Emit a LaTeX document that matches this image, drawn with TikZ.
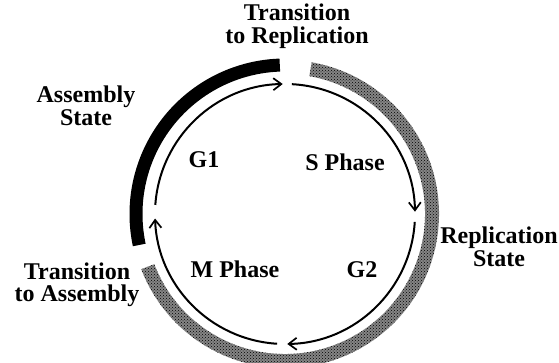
\documentclass[tikz,border=0pt]{standalone}
\usepackage{fontspec}
\setmainfont{Liberation Serif}
\usetikzlibrary{arrows.meta,patterns}
\begin{document}
\begin{tikzpicture}[x=1pt,y=1pt,
  lbl/.style={font=\fontsize{24}{22.5}\selectfont\bfseries, align=center, inner sep=0pt},
  cyc/.style={line width=2pt, -{Straight Barb[length=8pt,width=12pt,line width=1.7pt]}},
  assembly/.style={line width=13pt, black},
  repl/.style={fill=black!48},
  repltex/.style={pattern=crosshatch dots, pattern color=black}]
\useasboundingbox (0,0) rectangle (559,363);
\coordinate (C) at (285,149);
% outer state bands
\path (C) ++(92:149) coordinate (b1);
\draw[assembly] (b1) arc[start angle=92,end angle=192,radius=149];
\path (C) ++(80:154) coordinate (g1) (C) ++(-159:140) coordinate (g2);
\fill[repl] (g1) arc[start angle=80,end angle=-159,radius=154] -- (g2) arc[start angle=-159,end angle=80,radius=140] -- cycle;
\fill[repltex] (g1) arc[start angle=80,end angle=-159,radius=154] -- (g2) arc[start angle=-159,end angle=80,radius=140] -- cycle;
% cycle arrows
\path (C) ++(176:130) coordinate (a1)
      (C) ++(87:130) coordinate (a2)
      (C) ++(-3.5:130) coordinate (a3)
      (C) ++(-93.5:130) coordinate (a4);
\draw[cyc] (a1) arc[start angle=176,end angle=91,radius=130];
\draw[cyc] (a2) arc[start angle=87,end angle=1,radius=130];
\draw[cyc] (a3) arc[start angle=-3.5,end angle=-89,radius=130];
\draw[cyc] (a4) arc[start angle=-93.5,end angle=-178,radius=130];
% labels
\node[lbl] (tr) at (297,337) {Transition\\to Replication};
\node[lbl] (as) at (86,257) {Assembly\\State};
\node[lbl] (ta) at (77,78) {Transition\\to Assembly};
\node[lbl] (rs) at (499,116) {Replication\\State};
\node[lbl] (g1l) at (204,203) {G1};
\node[lbl] (sp) at (345,201) {S Phase};
\node[lbl] (mp) at (235,94) {M Phase};
\node[lbl] (g2l) at (362,93) {G2};
\end{tikzpicture}
\end{document}
